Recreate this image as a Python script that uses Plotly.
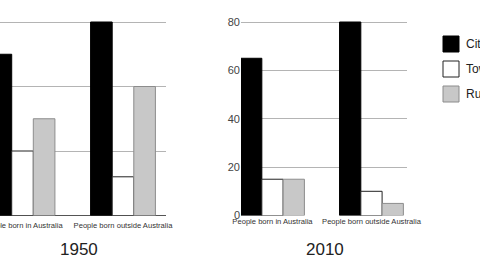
import plotly.graph_objects as go

categories = ["People born in Australia", "People born outside Australia"]
series = ["City", "Town", "Rural"]
values_1950 = {"City": [50, 60], "Town": [20, 12], "Rural": [30, 40]}
values_2010 = {"City": [65, 80], "Town": [15, 10], "Rural": [15, 5]}
titles = ["1950", "2010"]
yticks_2010 = [0, 20, 40, 60, 80]
yticks_1950 = [0, 20, 40, 60]

fills = {"City": "#000000", "Town": "#ffffff", "Rural": "#c8c8c8"}
lines = {"City": "#000000", "Town": "#222222", "Rural": "#8c8c8c"}

W, H = 480, 260
fig = go.Figure()

for s in series:
    fig.add_trace(go.Bar(x=[0, 1], y=values_1950[s], xaxis="x", yaxis="y",
                         marker=dict(color=fills[s], line=dict(color=lines[s], width=1)),
                         showlegend=False, name=s))
for s in series:
    fig.add_trace(go.Bar(x=[0, 1], y=values_2010[s], xaxis="x2", yaxis="y2",
                         marker=dict(color=fills[s], line=dict(color=lines[s], width=1)),
                         showlegend=False, name=s))

# manual legend swatches
fig.add_trace(go.Scatter(x=[0] * len(series), y=list(range(len(series))), xaxis="x3", yaxis="y3",
                         mode="markers",
                         marker=dict(symbol="square", size=16,
                                     color=[fills[s] for s in series],
                                     line=dict(color=[lines[s] for s in series], width=1)),
                         showlegend=False, hoverinfo="skip", cliponaxis=False))
for i, s in enumerate(series):
    fig.add_annotation(text=s, x=0, y=i, xref="x3", yref="y3", xshift=13,
                       xanchor="left", yanchor="middle", showarrow=False,
                       font=dict(size=12, color="#222", family="Liberation Sans"))

base_px, top_px = 215.5, 22.0
pad = 1.5  # px of headroom above top gridline
ydom = [(H - base_px) / H, (H - top_px + pad) / H]
catfont = dict(size=7.6, color="#333", family="Liberation Sans")

def yr(vmax):
    return [0, vmax * (base_px - top_px + pad) / (base_px - top_px)]

fig.update_layout(
    width=W, height=H, margin=dict(l=0, r=0, t=0, b=0, autoexpand=False),
    paper_bgcolor="white", plot_bgcolor="white",
    barmode="group", bargap=0.355, bargroupgap=0,
    xaxis=dict(domain=[0, 166 / W], range=[-0.224, 1.428], tickvals=[0, 1], ticktext=categories,
               showgrid=False, zeroline=False, showline=False, tickfont=catfont, tickangle=0,
               ticks="outside", ticklen=2, tickcolor="rgba(0,0,0,0)",
               automargin=False, ticklabeloverflow="allow"),
    yaxis=dict(domain=ydom, range=yr(60), tickvals=yticks_1950, showticklabels=False,
               showgrid=True, gridcolor="#b4b4b4", gridwidth=1, automargin=False,
               zeroline=True, zerolinecolor="#555", zerolinewidth=1),
    xaxis2=dict(domain=[241 / W, 407 / W], range=[-0.318, 1.359], tickvals=[0, 1], ticktext=categories,
                showgrid=False, zeroline=False, showline=False, tickfont=catfont, tickangle=0,
                ticks="", automargin=False, ticklabeloverflow="allow"),
    yaxis2=dict(domain=ydom, range=yr(80), tickvals=yticks_2010, anchor="x2",
                showgrid=True, gridcolor="#b4b4b4", gridwidth=1, automargin=False,
                zeroline=True, zerolinecolor="white",
                tickfont=dict(size=11, color="#444", family="Liberation Sans")),
    xaxis3=dict(domain=[432 / W, 1], range=[-19, 29], visible=False, automargin=False),
    yaxis3=dict(domain=[0, 1], range=[8.64, -1.76], visible=False, anchor="x3", automargin=False),
    showlegend=False,
)

for t, cx in zip(titles, [79, 325]):
    fig.add_annotation(text=t, x=cx / W, y=(H - 249) / H, xref="paper", yref="paper",
                       showarrow=False, font=dict(size=17, color="#222", family="Liberation Sans"),
                       xanchor="center", yanchor="middle")

fig.write_html("out.html")
